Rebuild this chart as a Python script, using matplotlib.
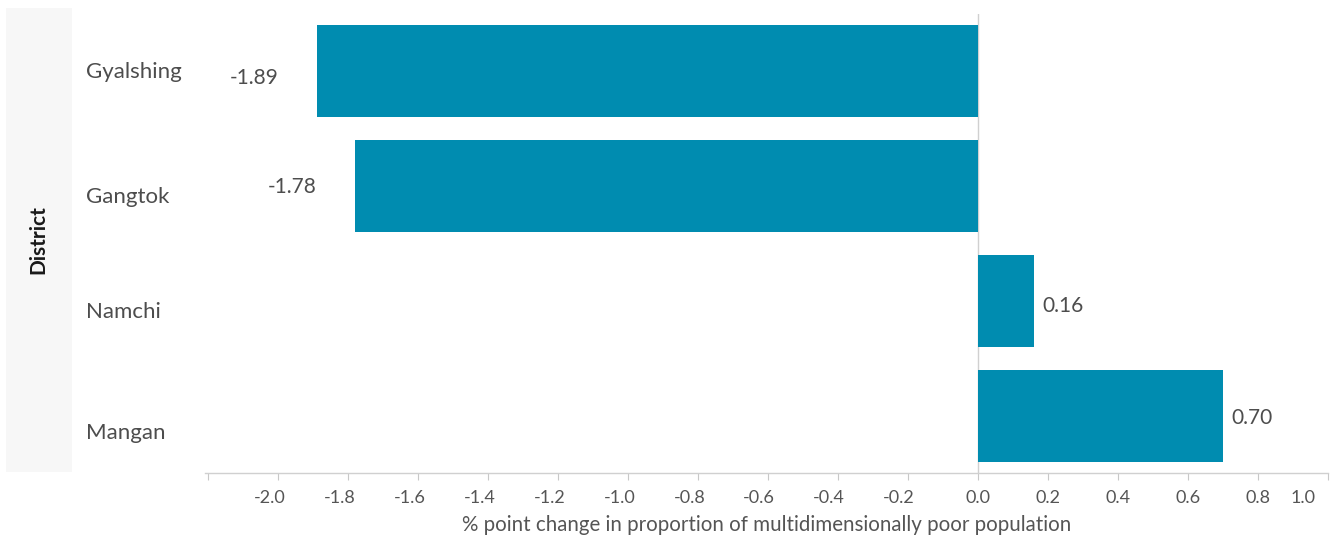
import matplotlib
matplotlib.use("Agg")
import matplotlib.pyplot as plt
import matplotlib.transforms as mtransforms
from matplotlib.patches import Rectangle
import numpy as np

districts = ["Gyalshing", "Gangtok", "Namchi", "Mangan"]
values = [-1.89, -1.78, 0.16, 0.70]
value_labels = ["-1.89", "-1.78", "0.16", "0.70"]
tick_values = [-2.2, -2.0, -1.8, -1.6, -1.4, -1.2, -1.0, -0.8, -0.6, -0.4, -0.2, 0.0, 0.2, 0.4, 0.6, 0.8, 1.0]
tick_labels = ["", "-2.0", "-1.8", "-1.6", "-1.4", "-1.2", "-1.0", "-0.8", "-0.6", "-0.4", "-0.2", "0.0", "0.2", "0.4", "0.6", "0.8", "1.0"]
x_title = "% point change in proportion of multidimensionally poor population"
y_title = "District"

plt.rcParams['font.family'] = ['Lato', 'DejaVu Sans']
plt.rcParams['axes.unicode_minus'] = False

W, H = 1339, 538
fig = plt.figure(figsize=(W / 100, H / 100), dpi=100)
fig.patch.set_facecolor("white")

# grey panel for y title
fig.add_artist(Rectangle((6 / W, 1 - 472 / H), 66 / W, 464 / H, transform=fig.transFigure,
                         facecolor="#f7f7f7", edgecolor="none", zorder=0))
fig.text(38 / W, 1 - 240 / H, y_title, rotation=90, ha="center", va="center",
         fontsize=15, fontweight="bold", color="#1a1a1a")

left, right, top, bottom = 205, 1328, 14, 473
ax = fig.add_axes([left / W, 1 - bottom / H, (right - left) / W, (bottom - top) / H])
ax.set_facecolor("none")

ypos = np.arange(len(districts))
bar_color = "#008cb0"
ax.barh(ypos, values, height=0.8, color=bar_color, zorder=2)
ax.set_xlim(-2.21, 1.0)
ax.set_ylim(len(districts) - 0.5, -0.5)

ax.axvline(0, color="#d0d0d0", lw=1, zorder=1)

# small vertical nudges of labels (pixels, positive = down)
value_down = [7, 1, 5, 2]
name_down = [1, 11, 11, 17]

for y, v, lab, dy in zip(ypos, values, value_labels, value_down):
    if v < 0:
        ax.annotate(lab, (v, y), xytext=(-28, -dy * 0.72), textcoords="offset points",
                    ha="right", va="center", fontsize=15, color="#4d4d4d")
    else:
        ax.annotate(lab, (v, y), xytext=(6, -dy * 0.72), textcoords="offset points",
                    ha="left", va="center", fontsize=15, color="#4d4d4d")

# spines
for s in ["top", "right", "left"]:
    ax.spines[s].set_visible(False)
ax.spines["bottom"].set_color("#d0d0d0")
ax.spines["bottom"].set_linewidth(1)

ax.set_xticks(tick_values)
ax.set_xticklabels(tick_labels)
ax.tick_params(axis="x", length=5, color="#c8c8c8", labelsize=13, labelcolor="#555555", pad=7)
for t, lab in zip(ax.get_xticklabels(), tick_labels):
    dx = 0
    if lab.startswith("-"):
        dx = -9
    if lab == "1.0":
        dx = -25
    t.set_transform(t.get_transform() + mtransforms.ScaledTranslation(dx / 100, 0, fig.dpi_scale_trans))

ax.set_yticks([])
btrans = mtransforms.blended_transform_factory(fig.transFigure, ax.transData)
for y, name, dy in zip(ypos, districts, name_down):
    ax.annotate(name, (86 / W, y), xycoords=btrans, xytext=(0, -dy * 0.72), textcoords="offset points",
                ha="left", va="center", fontsize=16, color="#4d4d4d")

fig.text((462 + 1072) / 2 / W, 1 - 525 / H, x_title, ha="center", va="center",
         fontsize=14.8, color="#555555")

fig.savefig("out.png", dpi=100)
